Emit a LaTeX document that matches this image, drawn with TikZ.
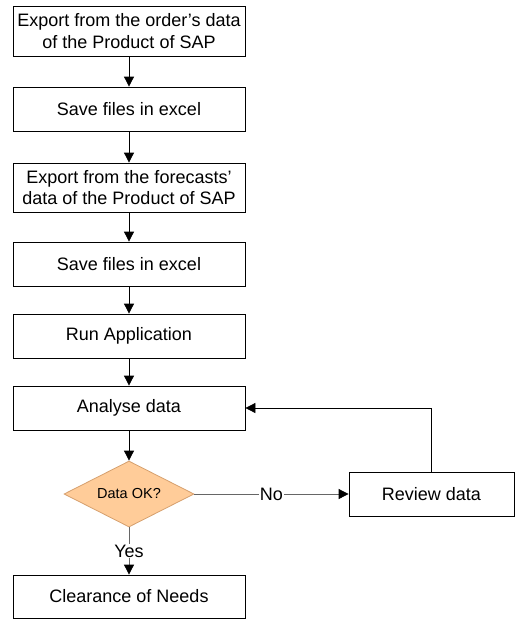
\documentclass[tikz,border=0pt]{standalone}
\usepackage{fontspec}
\setmainfont{Liberation Sans}
\usetikzlibrary{shapes.geometric,arrows.meta}

\definecolor{laranja}{RGB}{255,204,153}
\definecolor{bordalaranja}{RGB}{214,160,110}

\tikzset{
  caixa/.style={draw, line width=0.8pt, minimum width=232pt, minimum height=44pt,
    inner sep=0pt, align=center, font=\fontsize{18}{21.5}\selectfont},
  decisao/.style={diamond, draw=bordalaranja, fill=laranja, line width=0.8pt,
    shape aspect=2, inner sep=0pt, minimum width=130pt, minimum height=66pt,
    font=\fontsize{14.5}{17}\selectfont},
  seta/.style={-{Triangle[length=10pt,width=10pt,color=black]}, line width=0.8pt},
  rotulo/.style={fill=white, inner sep=1pt, text=black, font=\fontsize{18}{21.5}\selectfont},
}

\begin{document}
\begin{tikzpicture}[x=1pt,y=-1pt]
    \useasboundingbox (0,0) rectangle (515,619);
    % Etapas de exportacao
    \node[caixa, minimum height=50pt] (exportOrder) at (129,31) {Export from the order's data\\of the Product of SAP};
    \node[caixa] (saveOrder) at (129,109) {Save files in excel};
    \node[caixa, minimum height=49pt] (exportForecast) at (129,187.5) {Export from the forecasts'\\data of the Product of SAP};
    \node[caixa] (saveForecast) at (129,264) {Save files in excel};
    % Aplicacao e analise
    \node[caixa] (runApp) at (129,336) {Run Application};
    \node[caixa] (analyse) at (129,408) {Analyse data};
    \node[decisao] (dataOk) at (129,494) {Data OK?};
    \node[caixa, minimum width=165pt] (review) at (431.5,494) {Review data};
    \node[caixa, minimum height=43pt] (clearance) at (129,596.5) {Clearance of Needs};
    % Setas do fluxo
    \draw[seta] (exportOrder) -- (saveOrder);
    \draw[seta] (saveOrder) -- (exportForecast);
    \draw[seta] (exportForecast) -- (saveForecast);
    \draw[seta] (saveForecast) -- (runApp);
    \draw[seta] (runApp) -- (analyse);
    \draw[seta] (analyse) -- (dataOk);
    % Decisao
    \draw[seta, black!60] (dataOk) -- node[rotulo] {No} (review);
    \draw[seta, black!60] (dataOk) -- node[rotulo] {Yes} (clearance);
    % Retorno da revisao
    \draw[seta] (review.north) |- (analyse.east);
\end{tikzpicture}
\end{document}
